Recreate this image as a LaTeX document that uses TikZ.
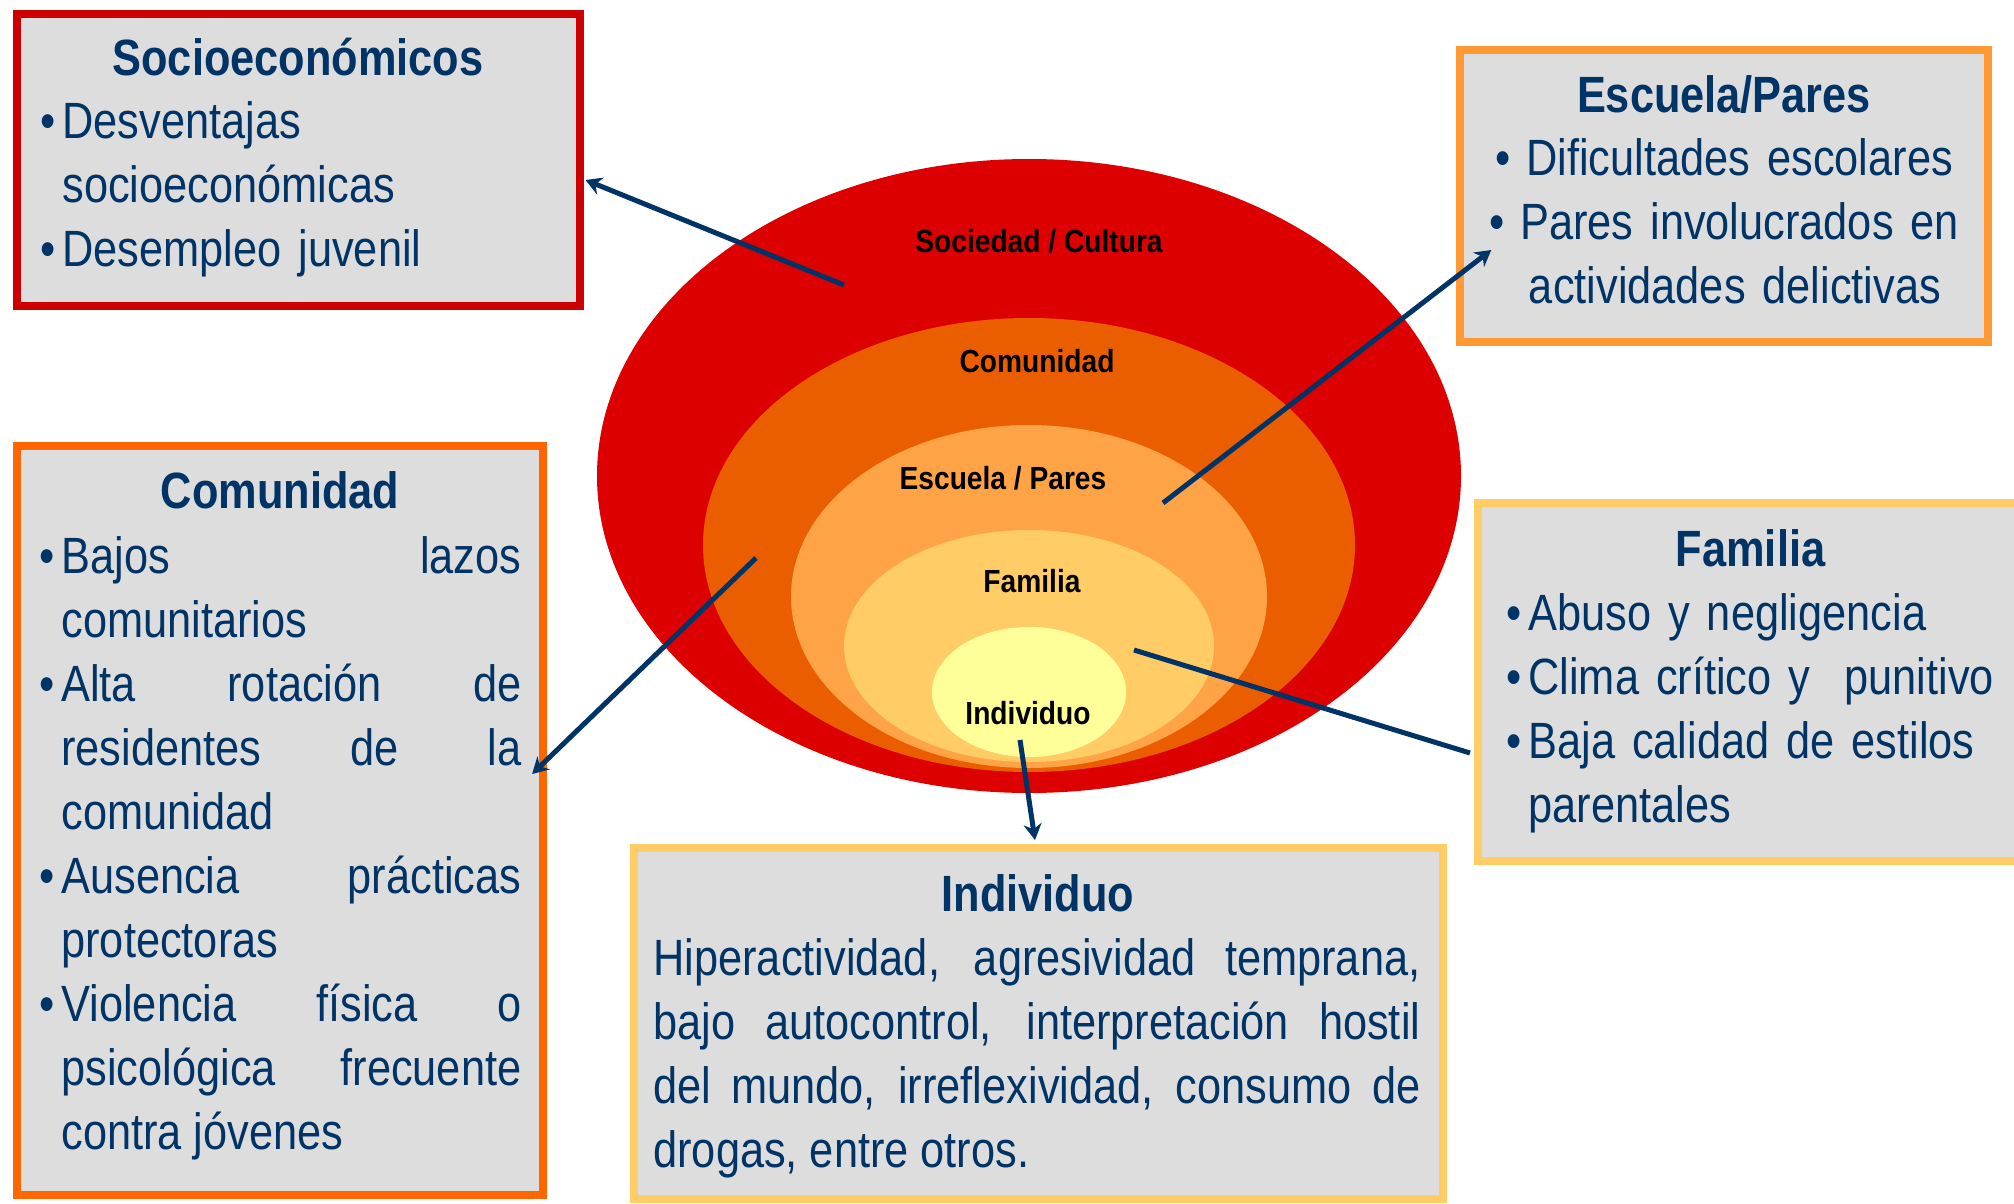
\documentclass[tikz,border=0pt]{standalone}
\usepackage{fontspec}
\setmainfont{Liberation Sans}[FakeStretch=0.85]
\newfontfamily\ringfont{Liberation Sans}[FakeStretch=0.88]
\usetikzlibrary{arrows.meta,calc}
\definecolor{navy}{HTML}{003366}
\definecolor{ringA}{HTML}{DD0000}
\definecolor{ringB}{HTML}{EA5E00}
\definecolor{ringC}{HTML}{FFA347}
\definecolor{ringD}{HTML}{FFCC66}
\definecolor{ringE}{HTML}{FFFF99}
\definecolor{edgeSoc}{HTML}{CC0000}
\definecolor{edgeEsc}{HTML}{FF9933}
\definecolor{edgeCom}{HTML}{FF6600}
\definecolor{edgeFam}{HTML}{FFCC66}
\definecolor{boxgray}{HTML}{DDDDDD}
\newcommand\itm{\hangindent=11pt\hangafter=1\makebox[11pt][l]{•}}
\hbadness=10000
\tikzset{
    factor/.style={draw=#1, fill=boxgray, line width=4pt, inner sep=0pt},
    ftitle/.style={anchor=base, text=navy, inner sep=0pt, font=\bfseries\fontsize{25.5}{32}\selectfont},
    fbody/.style={anchor=base west, text=navy, inner sep=0pt, font=\fontsize{25.5}{32}\selectfont},
    ring/.style={anchor=base, inner sep=0pt, font=\ringfont\bfseries\fontsize{16}{19}\selectfont},
    link/.style={draw=navy, line width=2.5pt},
    pointer/.style={link, -{Stealth[length=8pt, width=9pt]}}
}
\begin{document}
\begin{tikzpicture}[x=0.5pt, y=-0.5pt]
    \useasboundingbox (0,0) rectangle (2014,1204);
    % Rings
    \foreach \cy/\rx/\ry/\col in {476/432/317/ringA, 545/326/227/ringB, 596.5/238/171.5/ringC, 646/185/116/ringD, 692/97/65/ringE}
        \fill[\col] (1029,\cy) ellipse [x radius=\rx, y radius=\ry];
    \node[ring] (lSoc) at (1039,252) {Sociedad / Cultura};
    \node[ring] (lCom) at (1037,372) {Comunidad};
    \node[ring] (lEsc) at (1003,489) {Escuela / Pares};
    \node[ring] (lFam) at (1032,592) {Familia};
    \node[ring] (lInd) at (1028,724) {Individuo};
    % Socioeconomicos
    \node[factor=edgeSoc, minimum width=281.5pt, minimum height=146pt] (socio) at (298,160) {};
    \node[ftitle] (socioT) at (298,76) {Socioeconómicos};
    \node[fbody, text width=260pt, align=left] (socioB) at (40,139)
        {\itm Desventajas\newline socioeconómicas\par\itm Desempleo juvenil\par};
    % Escuela / Pares
    \node[factor=edgeEsc, minimum width=263.75pt, minimum height=146pt] (escuela) at (1724,196) {};
    \node[ftitle] (escuelaT) at (1724,113) {Escuela/Pares};
    \node[fbody, anchor=base, text width=260pt, align=center] (escuelaB) at (1724,176)
        {•\hspace{8pt}Dificultades escolares\\ •\hspace{8pt}Pares involucrados en\\ \hspace*{11pt}actividades delictivas};
    % Comunidad
    \node[factor=edgeCom, minimum width=263.15pt, minimum height=374.5pt] (comun) at (280,820.5) {};
    \node[ftitle] (comunT) at (280,508) {Comunidad};
    \node[fbody, text width=241pt, align=justify] (comunB) at (39,573)
        {\itm Bajos lazos\linebreak comunitarios\par
         \itm Alta rotación de\linebreak residentes de la\linebreak comunidad\par
         \itm Ausencia prácticas\linebreak protectoras\par
         \itm Violencia física o\linebreak psicológica frecuente\linebreak contra jóvenes\par};
    % Familia
    \node[factor=edgeFam, minimum width=272.5pt, minimum height=179pt] (familia) at (1750.5,682) {};
    \node[ftitle] (familiaT) at (1750.5,566) {Familia};
    \node[fbody, text width=260pt, align=left] (familiaB) at (1506,630)
        {\itm Abuso y negligencia\par\itm Clima crítico y\ \ punitivo\par\itm Baja calidad de estilos\newline parentales\par};
    % Individuo
    \node[factor=edgeFam, minimum width=404.5pt, minimum height=175.5pt] (indiv) at (1038.5,1023.5) {};
    \node[ftitle] (indivT) at (1038,911) {Individuo};
    \node[fbody, text width=383.5pt, align=justify] (indivB) at (653,975)
        {Hiperactividad, agresividad temprana,\linebreak bajo autocontrol, interpretación hostil\linebreak
         del mundo, irreflexividad, consumo de\linebreak drogas, entre otros.\par};
    % Links
    \coordinate (pSoc) at (844,285);
    \coordinate (pEsc) at (1163,503);
    \coordinate (pCom) at (756,558);
    \coordinate (pFam) at (1134,650);
    \coordinate (pInd) at (1020,740);
    \draw[pointer] (pSoc) -- ($(socio.east)+(2,20)$);
    \draw[pointer] (pEsc) -- ($(escuela.west)+(35,54)$);
    \draw[pointer] (pCom) -- ($(comun.east)+(-15,-46.5)$);
    \draw[link] (pFam) -- ($(familia.west)+(-4,71)$);
    \draw[pointer] (pInd) -- ($(indiv.north)+(-3.5,-4)$);
\end{tikzpicture}
\end{document}
